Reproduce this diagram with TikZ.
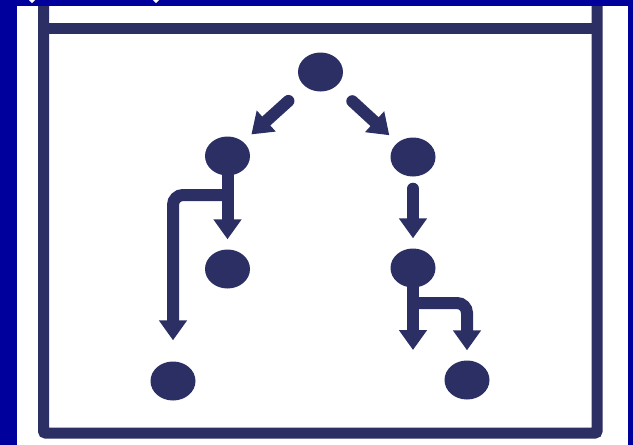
\documentclass[tikz,border=0pt]{standalone}
\usepackage{xcolor}
\usepackage{tikz}
\usetikzlibrary{arrows.meta,positioning,shapes.geometric}

\definecolor{navy}{HTML}{2B2F63}
\definecolor{bgblue}{HTML}{00009C}

\begin{document}
\begin{tikzpicture}[x=1pt,y=-1pt,on grid,
   vertex/.style={ellipse,fill=navy,minimum width=45pt,minimum height=39pt,inner sep=0pt},
   flow/.style={color=navy,line width=12pt,line cap=round,-{Triangle[length=20pt,width=27pt]}},
   windowline/.style={draw=navy,line width=11pt}]
   % backdrop
   \fill[bgblue] (0,0) rectangle (633,445);
   \fill[white] (17,6) rectangle (628,445);
   \fill[white] (29,0) -- (35,0) -- (32,3) -- cycle;
   \fill[white] (153,0) -- (159,0) -- (156,3) -- cycle;
   % window
   \draw[windowline,rounded corners=2pt] (43.5,6) -- (43.5,433) -- (597,433) -- (597,6);
   \draw[windowline] (43.5,28) -- (597,28);
   % tree
   \node[vertex] (root) at (320.5,72) {};
   \node[vertex] (L) [below left=84pt and 93pt of root] {};
   \node[vertex] (R) [below right=85pt and 92.5pt of root] {};
   \node[vertex] (LL) [below=113pt of L] {};
   \node[vertex] (R2) [below=111pt of R] {};
   \node[vertex] (BL) [below left=112pt and 54.5pt of LL] {};
   \node[vertex] (BR) [below right=112pt and 54pt of R2] {};
   \coordinate[below=39pt of L] (Lsplit);
   \coordinate[below=35pt of R2] (R2split);
   \coordinate[below=82pt of R2] (R2end);
   \draw[flow,shorten <=22pt,shorten >=11pt] (root) -- (L);
   \draw[flow,shorten <=22pt,shorten >=11pt] (root) -- (R);
   \draw[flow,shorten >=10pt] (L) -- (LL);
   \draw[flow,shorten <=12pt,shorten >=10pt] (R) -- (R2);
   \draw[flow] (R2) -- (R2end);
   \draw[flow,rounded corners=10pt,shorten >=21pt] (Lsplit) -| (BL);
   \draw[flow,rounded corners=10pt,shorten >=10pt] (R2split) -| (BR);
\end{tikzpicture}
\end{document}
